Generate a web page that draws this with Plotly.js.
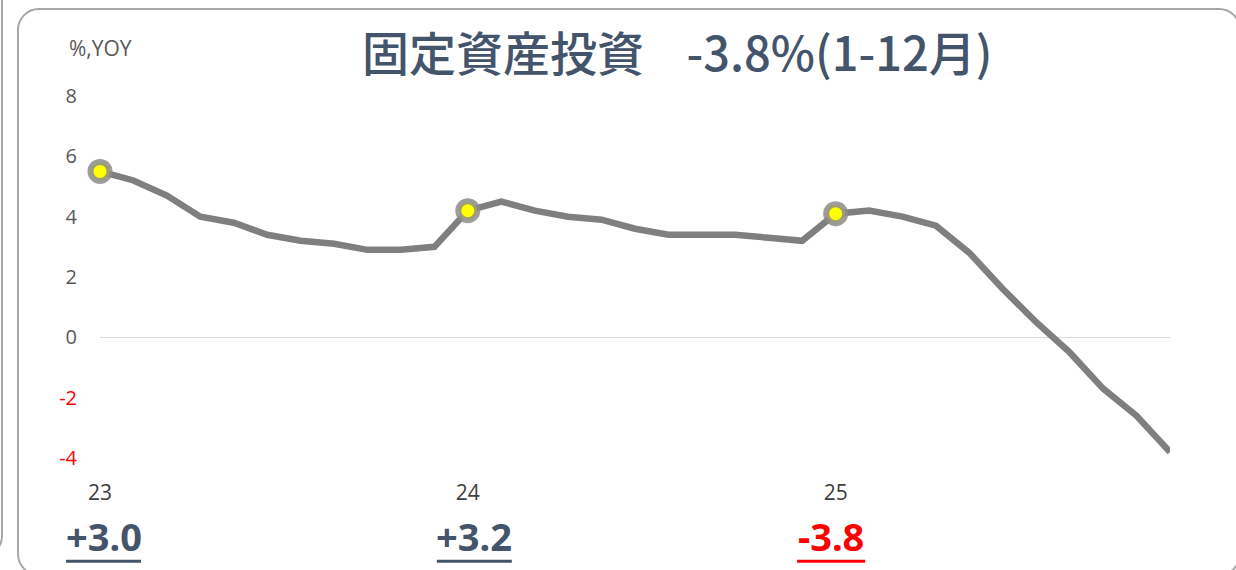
<!DOCTYPE html>
<html>
<head>
<meta charset="utf-8">
<script src="https://cdn.plot.ly/plotly-3.0.1.min.js"></script>
<style>
  html, body { margin:0; padding:0; background:#fff; overflow:hidden; }
  #wrap { position:relative; width:1236px; height:570px; }
  #chart { position:absolute; left:0; top:0; width:1236px; height:570px; }
  .frame { position:absolute; border:2.5px solid #A6A6A6; border-radius:22px; box-sizing:border-box; pointer-events:none; }
</style>
</head>
<body>
<div id="wrap">
  <div class="frame" style="left:-120px; top:-30px; width:123px; height:588px;"></div>
  <div class="frame" style="left:17px; top:8px; width:1224px; height:568px;"></div>
  <div id="chart"></div>
</div>
<script>
const years = ['23', '24', '25'];
const v2023 = [5.5, 5.2, 4.7, 4.0, 3.8, 3.4, 3.2, 3.1, 2.9, 2.9, 3.0];
const v2024 = [4.2, 4.5, 4.2, 4.0, 3.9, 3.6, 3.4, 3.4, 3.4, 3.3, 3.2];
const v2025 = [4.1, 4.2, 4.0, 3.7, 2.8, 1.6, 0.5, -0.5, -1.7, -2.6, -3.8];
const yTicks = [-4, -2, 0, 2, 4, 6, 8];
const titleText = '固定資産投資\u00a0\u00a0\u00a0\u00a0-3.8%(1-12月)';
const unitText = '%,YOY';

const series = [v2023, v2024, v2025];
const yAll = [].concat(...series);
const xAll = yAll.map((_, i) => i);
const yearStart = [];
let off = 0;
series.forEach(s => { yearStart.push(off); off += s.length; });
const startVals = series.map(s => s[0]);
const endVals = series.map(s => s[s.length - 1]);
const nMax = xAll.length - 1;

const navy = '#44546A';
const red = '#FF0000';

const traces = [
  {
    x: xAll, y: yAll, type: 'scatter', mode: 'lines',
    line: { color: '#7F7F7F', width: 6.5, shape: 'linear' },
    hoverinfo: 'skip', cliponaxis: false
  },
  {
    x: yearStart, y: startVals, type: 'scatter', mode: 'markers',
    marker: { size: 19, color: '#FFFF00', line: { color: 'rgba(140,140,140,0.85)', width: 6 } },
    hoverinfo: 'skip', cliponaxis: false
  }
];

const annotations = [
  {
    text: unitText, xref: 'paper', yref: 'paper', x: -0.031, y: 1.133,
    xanchor: 'left', yanchor: 'middle', showarrow: false,
    font: { family: 'Open Sans, Noto Sans, sans-serif', size: 21, color: '#595959' }
  }
];
const shapes = [];
const plotW = 1070;
endVals.forEach((v, i) => {
  const txt = (v > 0 ? '+' : '') + v.toFixed(1);
  const col = v < 0 ? red : navy;
  const px = yearStart[i] / nMax;
  const halfW = (v < 0 ? 34 : 37.5) / plotW;
  const cx = px + (i === 0 ? 3.5 : i === 1 ? 6.5 : -4.5) / plotW;
  annotations.push({
    text: '<b>' + txt + '</b>', xref: 'paper', yref: 'paper', x: cx, y: -0.216,
    xanchor: 'center', yanchor: 'middle', showarrow: false,
    font: { family: 'Noto Sans, sans-serif', size: 38, color: col }
  });
  shapes.push({
    type: 'line', xref: 'paper', yref: 'paper',
    x0: cx - halfW, x1: cx + halfW, y0: -0.285, y1: -0.285,
    line: { color: col, width: 3 }
  });
});

const layout = {
  width: 1236, height: 570,
  margin: { l: 100, r: 66, t: 96, b: 112 },
  paper_bgcolor: 'rgba(0,0,0,0)', plot_bgcolor: 'rgba(0,0,0,0)',
  showlegend: false,
  title: {
    text: titleText, x: 0.548, xref: 'container', xanchor: 'center',
    y: 0.905, yref: 'container', yanchor: 'middle',
    font: { family: 'Noto Sans CJK JP, sans-serif', size: 47, color: navy, weight: 500 }
  },
  xaxis: {
    range: [0, nMax], showgrid: false, zeroline: false, showline: false,
    tickvals: yearStart, ticktext: years, ticks: '',
    ticklabelstandoff: 20,
    tickfont: { family: 'Open Sans, Noto Sans, sans-serif', size: 21, color: '#404040' },
    fixedrange: true
  },
  yaxis: {
    range: [-4, 8], showgrid: false, zeroline: true, zerolinecolor: '#D9D9D9', zerolinewidth: 1.5,
    showline: false, tickvals: yTicks,
    ticktext: yTicks.map(t => t < 0 ? '<span style="color:#FF0000">' + t + '</span>' : String(t)),
    ticks: '', ticklabelstandoff: 22,
    tickfont: { family: 'Open Sans, Noto Sans, sans-serif', size: 20, color: '#595959' },
    fixedrange: true
  },
  annotations: annotations,
  shapes: shapes
};

Plotly.newPlot('chart', traces, layout, { displayModeBar: false, staticPlot: true });
</script>
</body>
</html>
